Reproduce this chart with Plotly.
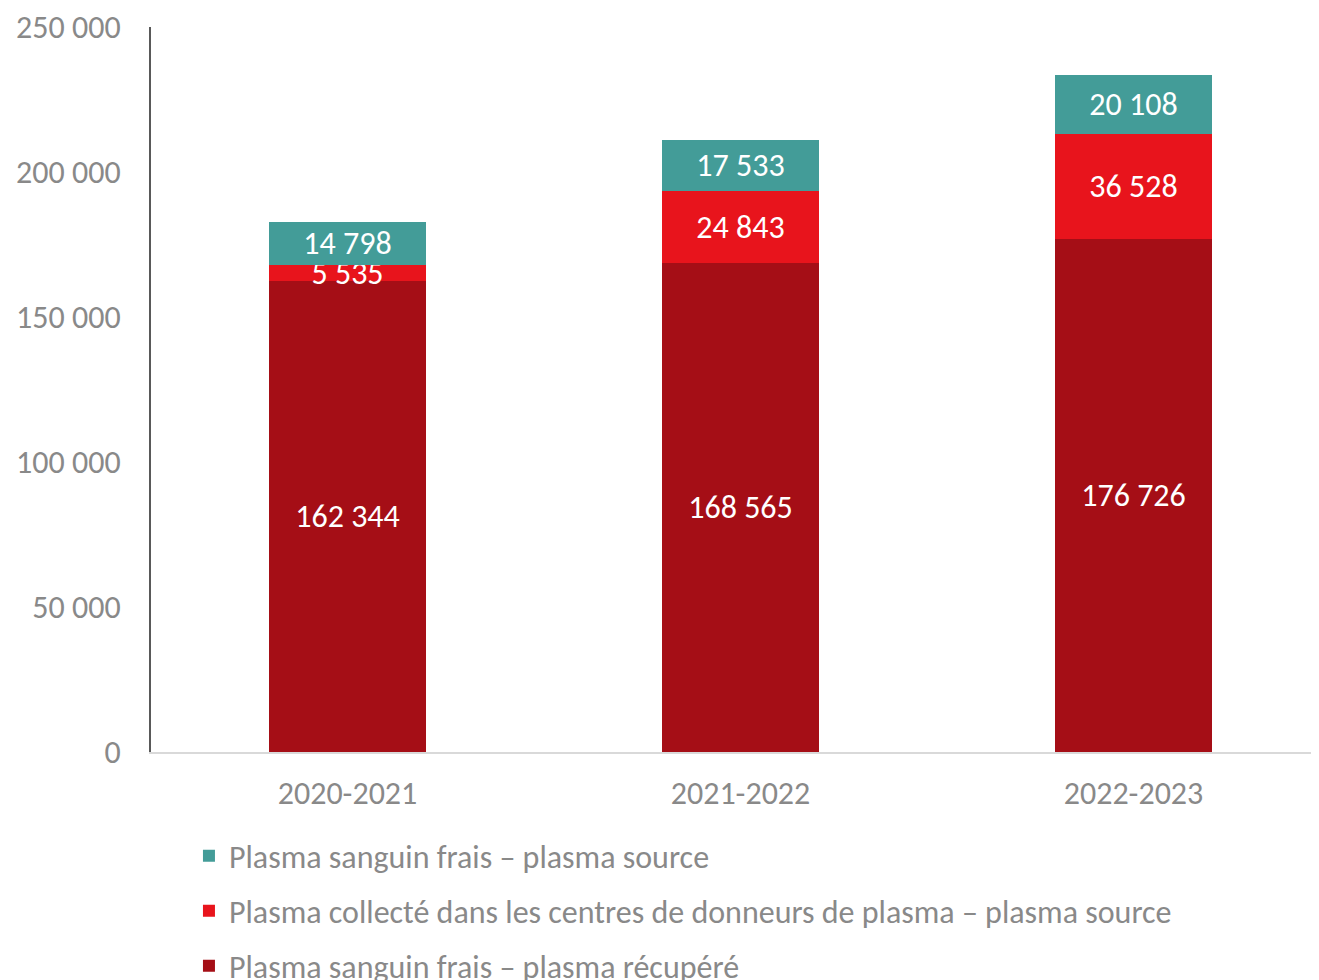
import plotly.graph_objects as go

categories = ["2020-2021", "2021-2022", "2022-2023"]
recupere = [162344, 168565, 176726]
centres = [5535, 24843, 36528]
source_frais = [14798, 17533, 20108]

names = [
    "Plasma sanguin frais – plasma récupéré",
    "Plasma collecté dans les centres de donneurs de plasma – plasma source",
    "Plasma sanguin frais – plasma source",
]
colors = ["#A50E16", "#E8141C", "#439C98"]
legend_ids = ["legend3", "legend2", "legend"]
legend_y = [0.0144, 0.0710, 0.1276]
FONT = "Calibri, Carlito, Lato, sans-serif"
FS = 32

fig = go.Figure()
for vals, name, col, lg in zip([recupere, centres, source_frais], names, colors, legend_ids):
    fig.add_trace(go.Bar(
        x=categories, y=vals, name=name, marker_color=col, marker_line_width=0,
        width=0.4, texttemplate="%{y:,}", textposition="inside",
        insidetextanchor="middle", constraintext="none",
        textfont=dict(color="white", size=FS, family=FONT),
        hoverinfo="skip", legend=lg,
    ))

legend_common = dict(x=0.0325, xanchor="left", yanchor="middle", yref="container",
                     font=dict(size=FS, color="#898989", family=FONT),
                     bgcolor="rgba(0,0,0,0)", itemwidth=30)
fig.update_layout(
    barmode="stack", width=1311, height=972,
    margin=dict(l=143, r=0, t=19, b=228),
    plot_bgcolor="white", paper_bgcolor="white",
    separators=", ",
    font=dict(family=FONT, color="#898989", size=FS),
    showlegend=True,
    legend=dict(y=legend_y[2], **legend_common),
    legend2=dict(y=legend_y[1], **legend_common),
    legend3=dict(y=legend_y[0], **legend_common),
)
fig.update_xaxes(range=[-0.5, 2.472], showline=True, linecolor="#D9D9D9", linewidth=2,
                 ticks="", ticklabelstandoff=12, showgrid=False, automargin=False,
                 tickfont=dict(size=FS, color="#898989"))
fig.update_yaxes(range=[0, 250000], dtick=50000, tickformat=",", showline=True,
                 linecolor="#595959", linewidth=2, showgrid=False, zeroline=False,
                 ticks="", ticklabelstandoff=22, automargin=False,
                 tickfont=dict(size=FS, color="#898989"))
fig.write_html("out.html")
